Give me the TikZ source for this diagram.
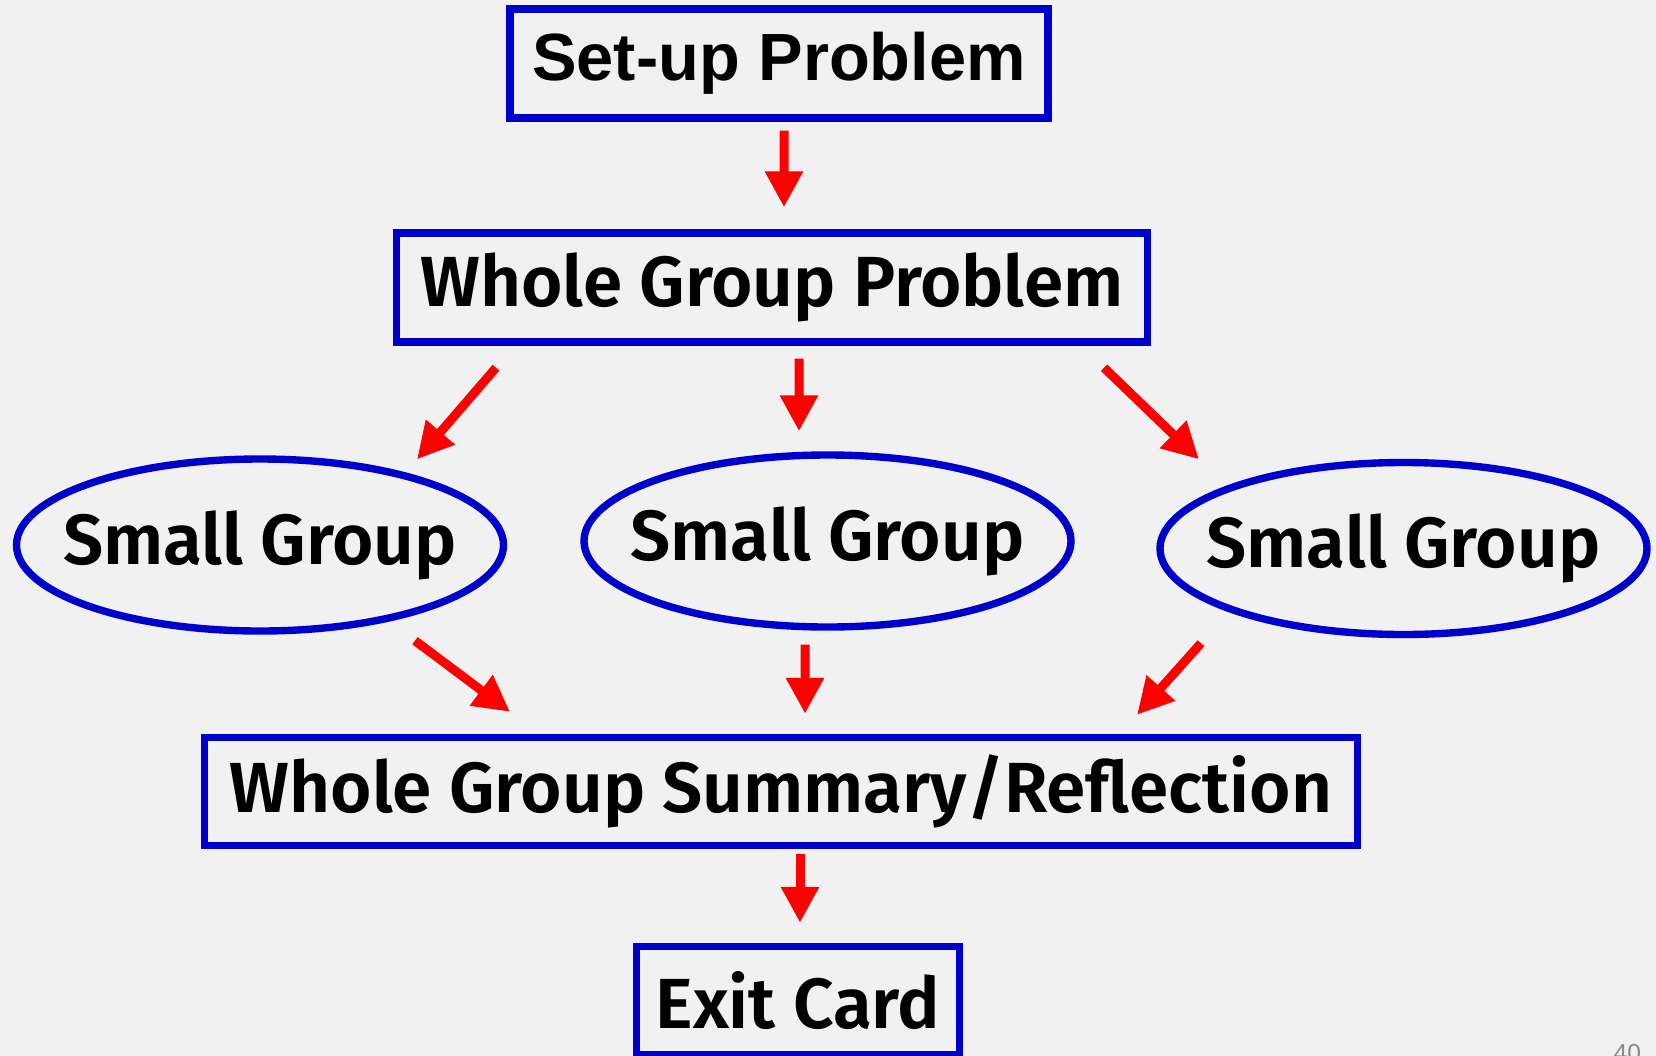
\documentclass[tikz,border=0pt]{standalone}
\usepackage{fontspec}
\setmainfont{Fira Sans}[BoldFont={Fira Sans SemiBold}]
\newfontfamily\arialfont{Liberation Sans}
\usepackage{xcolor}
\usepackage{tikz}
\usetikzlibrary{shapes.geometric, arrows.meta, positioning, calc}

\definecolor{slidebg}{RGB}{241,241,241}
\definecolor{boxblue}{RGB}{0,0,204}
\definecolor{pagegray}{RGB}{137,137,137}

\begin{document}
\begin{tikzpicture}[
    block/.style={draw=boxblue, line width=2.1pt, rectangle, inner sep=0pt, minimum height=1.09cm, align=center, font=\bfseries\fontsize{20.2}{24}\selectfont},
    group/.style={draw=boxblue, line width=2.1pt, ellipse, inner sep=0pt, minimum width=4.87cm, minimum height=1.72cm, font=\bfseries\fontsize{20.2}{24}\selectfont},
    arrow/.style={draw=red, line width=0.09cm, -{Triangle[width=0.36cm,length=0.36cm]}}
]

% Background
\fill[slidebg] (0,0) rectangle (16.56,-10.56);
\clip (0,0) rectangle (16.56,-10.56);

% Nodes
\node (setup) [block, minimum width=5.38cm, font=\arialfont\bfseries\fontsize{19}{23}\selectfont] at (7.79,-0.635) {Set-up Problem};
\node (whole) [block, minimum width=7.51cm] at (7.72,-2.875) {Whole Group Problem};
\node (small1) [group] at (2.60,-5.45) {\makebox[0pt]{Small Group}};
\node (small2) [group] at (8.275,-5.41) {\makebox[0pt]{Small Group}};
\node (small3) [group] at (14.035,-5.485) {\makebox[0pt]{Small Group}};
\node (summary) [block, minimum width=11.53cm, minimum height=1.08cm] at (7.81,-7.915) {Whole Group Summary/Reflection};
\node (exit) [block, minimum width=3.23cm, minimum height=1.08cm] at (7.98,-10.005) {Exit Card};
\node (pagenum) [anchor=base west, inner sep=0pt, text=pagegray, font=\arialfont\fontsize{7}{8}\selectfont] at (16.13,-10.61) {40};

% Links
\draw[arrow] ([xshift=0.05cm,yshift=-0.09cm]setup.south) -- ([xshift=0.12cm,yshift=0.22cm]whole.north);
\draw[arrow] ([xshift=-2.76cm,yshift=-0.22cm]whole.south) -- ([xshift=1.57cm,yshift=-0.04cm]small1.north);
\draw[arrow] ([xshift=0.27cm,yshift=-0.13cm]whole.south) -- ([xshift=-0.285cm,yshift=0.20cm]small2.north);
\draw[arrow] ([xshift=3.32cm,yshift=-0.22cm]whole.south) -- ([xshift=-2.045cm,yshift=-0.005cm]small3.north);
\draw[arrow] ([xshift=1.55cm,yshift=-0.06cm]small1.south) -- ([xshift=-2.71cm,yshift=0.22cm]summary.north);
\draw[arrow] ([xshift=-0.225cm,yshift=-0.14cm]small2.south) -- ([xshift=0.24cm,yshift=0.20cm]summary.north);
\draw[arrow] ([xshift=-2.025cm,yshift=-0.05cm]small3.south) -- ([xshift=3.56cm,yshift=0.19cm]summary.north);
\draw[arrow] ([xshift=0.19cm,yshift=-0.05cm]summary.south) -- ([xshift=0.02cm,yshift=0.20cm]exit.north);

\end{tikzpicture}
\end{document}
